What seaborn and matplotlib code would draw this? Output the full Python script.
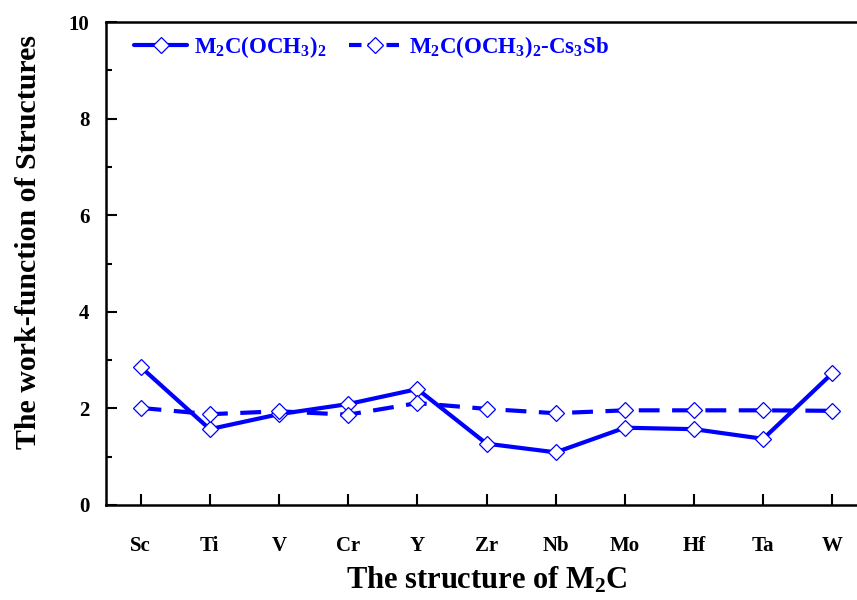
import matplotlib
matplotlib.use("Agg")
import matplotlib.pyplot as plt
import pandas as pd
import seaborn as sns
from matplotlib.ticker import MultipleLocator

metals = ["Sc", "Ti", "V", "Cr", "Y", "Zr", "Nb", "Mo", "Hf", "Ta", "W"]
wf_bare = [2.86, 1.57, 1.88, 2.09, 2.40, 1.27, 1.09, 1.60, 1.57, 1.37, 2.73]
wf_cs3sb = [2.01, 1.88, 1.94, 1.87, 2.11, 1.99, 1.90, 1.96, 1.96, 1.96, 1.95]

label_bare = r"M$_2$C(OCH$_3$)$_2$"
label_cs3sb = r"M$_2$C(OCH$_3$)$_2$-Cs$_3$Sb"

sns.set_theme(style="ticks")
plt.rcParams["font.family"] = ["Liberation Serif", "DejaVu Serif"]
plt.rcParams["font.weight"] = "bold"
plt.rcParams["text.color"] = "black"
plt.rcParams["axes.labelcolor"] = "black"
plt.rcParams["xtick.color"] = "black"
plt.rcParams["ytick.color"] = "black"
plt.rcParams["mathtext.fontset"] = "custom"
plt.rcParams["mathtext.rm"] = "Liberation Serif:bold"
plt.rcParams["mathtext.it"] = "Liberation Serif:bold"
plt.rcParams["mathtext.bf"] = "Liberation Serif:bold"

df = pd.DataFrame({"metal": metals, "bare": wf_bare, "cs3sb": wf_cs3sb})
df["pos"] = range(len(metals))

fig = plt.figure(figsize=(8.57, 6.0), dpi=100)
ax = fig.add_axes([106 / 857, 95 / 600, 761 / 857, 483 / 600])

blue = "#0000FF"
marker_kw = dict(marker="D", markersize=8, markerfacecolor="white",
                 markeredgecolor=blue, markeredgewidth=0.9)

sns.lineplot(data=df, x="pos", y="bare", ax=ax, color=blue, linewidth=3,
             label=label_bare, **marker_kw)
sns.lineplot(data=df, x="pos", y="cs3sb", ax=ax, color=blue, linewidth=3,
             linestyle=(0, (5, 3)), label=label_cs3sb, **marker_kw)

ax.set_xlim(-0.5, 10.5)
ax.set_ylim(0, 10)
ax.set_xticks(df["pos"])
ax.set_xticklabels(metals)
ax.yaxis.set_major_locator(MultipleLocator(2))
ax.yaxis.set_minor_locator(MultipleLocator(1))

ax.tick_params(axis="both", which="major", direction="in", length=8, width=1.5,
               labelsize=15, labelcolor="black")
ax.tick_params(axis="x", which="major", pad=22)
ax.tick_params(axis="y", which="major", pad=12)
ax.tick_params(axis="y", which="minor", direction="in", length=4, width=1.5)
for lab in ax.get_xticklabels() + ax.get_yticklabels():
    lab.set_fontweight("bold")

for side in ["top", "left", "bottom", "right"]:
    ax.spines[side].set_linewidth(1.8)
    ax.spines[side].set_color("black")

ax.set_xlabel(r"The structure of M$_2$C", fontsize=22, fontweight="bold",
              color="black")
ax.set_ylabel("The work-function of Structures", fontsize=21.5, fontweight="bold",
              color="black")
ax.xaxis.set_label_coords((487 - 106) / 761, -0.125)
ax.yaxis.set_label_coords((42 - 106) / 761, 0.545)

leg = ax.legend(loc="upper left", ncol=2, frameon=False, fontsize=16.5,
                handlelength=2.3, columnspacing=1.0, handletextpad=0.3,
                bbox_to_anchor=(0.01, 1.018))
for text in leg.get_texts():
    text.set_color(blue)
    text.set_fontweight("bold")
leg.get_lines()[1].set_dashes((3, 1.5))

fig.savefig("out.png", dpi=100, facecolor="white")
